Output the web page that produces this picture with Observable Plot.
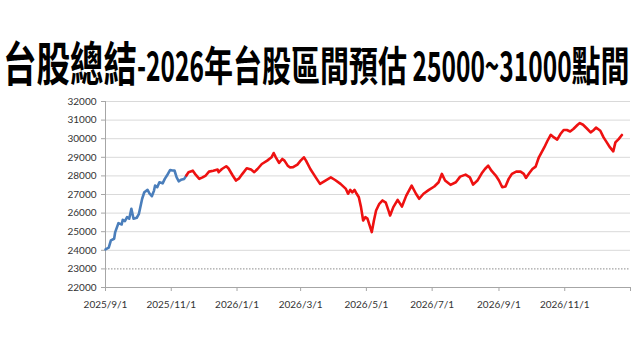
<!DOCTYPE html>
<html><head><meta charset="utf-8">
<script src="https://cdn.jsdelivr.net/npm/d3@7"></script>
<script src="https://cdn.jsdelivr.net/npm/@observablehq/plot@0.6"></script>
<style>
html,body{margin:0;padding:0;background:#fff}
body{width:640px;height:360px;overflow:hidden;position:relative}
#title{position:absolute;left:3px;top:38px;transform-origin:0 0;transform:scaleY(1.4);white-space:nowrap;line-height:1;font-weight:700;color:#000;font-family:"Noto Sans CJK TC",sans-serif;font-size:33.5px}
#title .t2{font-size:29px}
#title .lat{display:inline-block;transform-origin:0 100%;white-space:pre}
#chart{position:absolute;left:0;top:90px}
</style>
</head><body>
<div id="title"><span class="t1"></span><span class="t2"></span></div>
<div id="chart"></div>
<script>
const titleMain = "台股總結";
const titleSub = "-2026年台股區間預估 25000~31000點間";

const yTicks = [22000,23000,24000,25000,26000,27000,28000,29000,30000,31000,32000];
const gridTicks = [24000,25000,26000,27000,28000,29000,30000,31000,32000];
const xTickDates = ["2025-09-01","2025-11-01","2026-01-01","2026-03-01","2026-05-01","2026-07-01","2026-09-01","2026-11-01","2027-01-01"];
const xTickLabels = ["2025/9/1","2025/11/1","2026/1/1","2026/3/1","2026/5/1","2026/7/1","2026/9/1","2026/11/1",""];

const blueDates = ["2025-09-01","2025-09-04","2025-09-06","2025-09-09","2025-09-10","2025-09-13","2025-09-16","2025-09-17","2025-09-19","2025-09-21","2025-09-23","2025-09-25","2025-09-27","2025-09-30","2025-10-02","2025-10-05","2025-10-07","2025-10-10","2025-10-12","2025-10-14","2025-10-16","2025-10-17","2025-10-19","2025-10-21","2025-10-24","2025-10-26","2025-10-28","2025-10-31","2025-11-02","2025-11-04","2025-11-06","2025-11-08","2025-11-10","2025-11-13","2025-11-15"];
const blueValues = [24050,24140,24530,24620,24980,25460,25390,25640,25570,25780,25700,26230,25700,25750,25960,26770,27120,27250,27040,26910,27210,27480,27390,27660,27600,27840,28020,28320,28290,28290,27920,27710,27790,27840,28020];

const redDates = ["2025-11-15","2025-11-17","2025-11-21","2025-11-23","2025-11-27","2025-11-30","2025-12-03","2025-12-06","2025-12-10","2025-12-14","2025-12-15","2025-12-18","2025-12-22","2025-12-24","2025-12-28","2025-12-31","2026-01-03","2026-01-06","2026-01-10","2026-01-14","2026-01-17","2026-01-20","2026-01-24","2026-01-29","2026-02-02","2026-02-04","2026-02-06","2026-02-09","2026-02-12","2026-02-14","2026-02-17","2026-02-19","2026-02-22","2026-02-26","2026-03-01","2026-03-04","2026-03-06","2026-03-10","2026-03-15","2026-03-19","2026-03-24","2026-03-29","2026-04-02","2026-04-07","2026-04-12","2026-04-14","2026-04-16","2026-04-18","2026-04-20","2026-04-22","2026-04-24","2026-04-26","2026-04-28","2026-04-30","2026-05-02","2026-05-04","2026-05-06","2026-05-08","2026-05-10","2026-05-13","2026-05-16","2026-05-19","2026-05-22","2026-05-23","2026-05-26","2026-05-30","2026-06-03","2026-06-07","2026-06-12","2026-06-16","2026-06-19","2026-06-23","2026-06-28","2026-07-03","2026-07-07","2026-07-10","2026-07-13","2026-07-18","2026-07-23","2026-07-27","2026-08-01","2026-08-05","2026-08-08","2026-08-12","2026-08-16","2026-08-19","2026-08-22","2026-08-25","2026-08-29","2026-09-01","2026-09-04","2026-09-07","2026-09-10","2026-09-13","2026-09-17","2026-09-21","2026-09-24","2026-09-26","2026-09-29","2026-10-02","2026-10-05","2026-10-08","2026-10-13","2026-10-16","2026-10-19","2026-10-22","2026-10-25","2026-10-28","2026-10-31","2026-11-03","2026-11-06","2026-11-09","2026-11-13","2026-11-15","2026-11-18","2026-11-22","2026-11-25","2026-11-28","2026-11-30","2026-12-04","2026-12-07","2026-12-10","2026-12-13","2026-12-16","2026-12-18","2026-12-21","2026-12-24"];
const redValues = [28020,28200,28280,28110,27840,27920,28020,28230,28280,28340,28200,28370,28520,28410,28020,27750,27870,28110,28410,28340,28200,28370,28640,28820,29000,29230,29000,28700,28910,28820,28550,28460,28470,28610,28820,29000,28820,28370,27920,27570,27750,27920,27780,27570,27300,27040,27250,27120,27250,27040,26850,26320,25600,25780,25700,25340,24980,25600,26140,26500,26680,26560,26050,25870,26320,26710,26350,26940,27480,27040,26770,27040,27250,27430,27660,28110,27750,27520,27660,27960,28070,27920,27530,27750,28140,28370,28550,28280,28020,27750,27390,27430,27840,28110,28230,28230,28110,27890,28140,28370,28500,29000,29530,29890,30210,30070,29950,30250,30470,30470,30390,30520,30750,30840,30750,30520,30340,30470,30600,30430,30070,29800,29530,29320,29800,29980,30200];

// title: CJK runs at natural width, Latin runs condensed
document.querySelector("#title .t1").textContent = titleMain;
const t2 = document.querySelector("#title .t2");
const latScale = 0.845;
titleSub.match(/[\u3400-\u9fff]+|[^\u3400-\u9fff]+/g).forEach(run => {
  const s = document.createElement("span");
  s.textContent = run;
  if (!/[\u3400-\u9fff]/.test(run)) s.className = "lat";
  t2.appendChild(s);
});
t2.querySelectorAll(".lat").forEach(s => {
  const w = s.getBoundingClientRect().width;
  s.style.transform = `scaleX(${latScale})`;
  s.style.marginRight = `${-w * (1 - latScale)}px`;
});

const parse = d3.utcParse("%Y-%m-%d");
const blue = blueDates.map((d, i) => ({date: parse(d), value: blueValues[i]}));
const red = redDates.map((d, i) => ({date: parse(d), value: redValues[i]}));
const xTicks = xTickDates.map(parse);
const labelMap = new Map(xTicks.map((d, i) => [+d, xTickLabels[i]]));
const xDomain = [xTicks[0], xTicks[xTicks.length - 1]];

const chart = Plot.plot({
  width: 640,
  height: 270,
  marginLeft: 105,
  marginRight: 10,
  marginTop: 11,
  marginBottom: 73,
  x: {type: "utc", domain: xDomain},
  y: {domain: [22000, 32000]},
  style: {fontFamily: "Lato, 'Open Sans', sans-serif", fontSize: "10px", background: "#fff"},
  marks: [
    Plot.gridY(gridTicks, {stroke: "#d9d9d9", strokeOpacity: 1, strokeWidth: 1}),
    Plot.ruleY([23000], {stroke: "#8c8c8c", strokeDasharray: "1.5,1.5"}),
    Plot.ruleY([22000], {stroke: "#a6a6a6"}),
    Plot.ruleX([xDomain[0]], {stroke: "#a6a6a6"}),
    Plot.axisY(yTicks, {tickSize: 4, tickPadding: 5, stroke: "#a6a6a6", fill: "#333", label: null, tickFormat: d => String(d)}),
    Plot.axisX(xTicks, {tickSize: 4, tickPadding: 9, stroke: "#a6a6a6", fill: "#333", label: null, tickFormat: d => labelMap.get(+d)}),
    Plot.line(blue, {x: "date", y: "value", stroke: "#4a7ebb", strokeWidth: 2.6}),
    Plot.line(red, {x: "date", y: "value", stroke: "#ee1111", strokeWidth: 2.6})
  ]
});
document.getElementById("chart").appendChild(chart);
</script>
</body></html>
